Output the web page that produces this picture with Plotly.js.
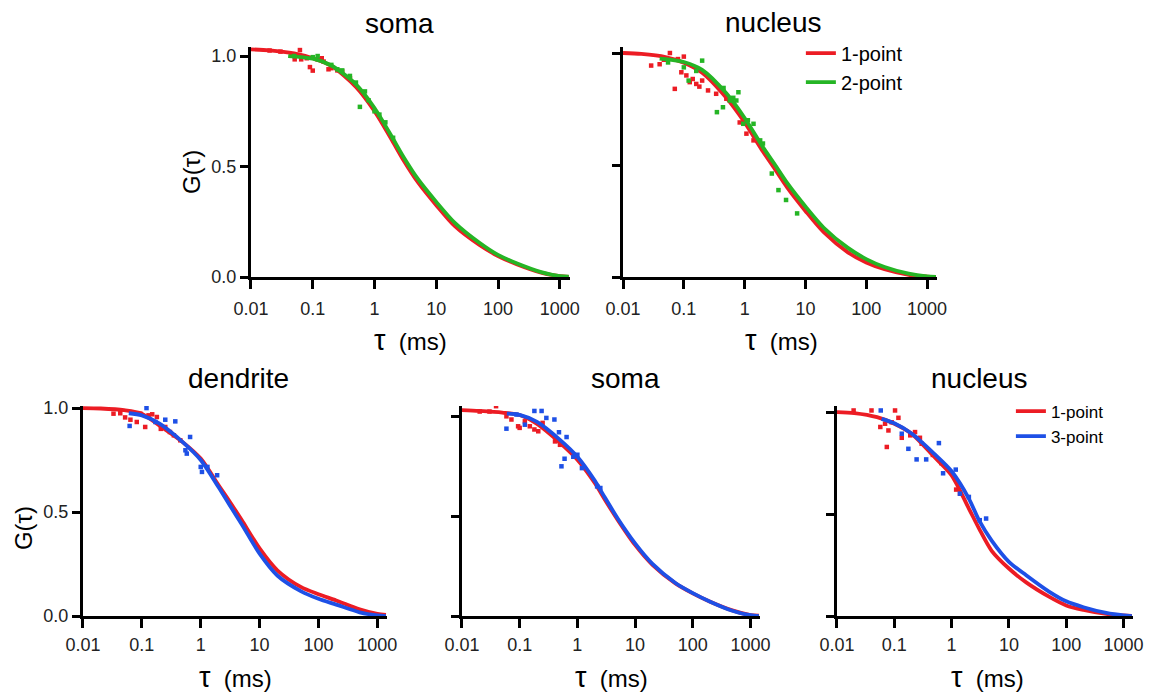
<!DOCTYPE html>
<html>
<head>
<meta charset="utf-8">
<script src="https://cdn.plot.ly/plotly-3.0.1.min.js"></script>
<style>html,body{margin:0;padding:0;background:#fff}#chart{width:1154px;height:699px}</style>
</head>
<body>
<div id="chart"></div>
<script>
// ---------- data ----------
var TAU_FIT   = [0.01, 0.02, 0.05, 0.1, 0.2, 0.5, 1, 2, 3, 5, 10, 20, 50, 100, 200, 500, 1000, 1400];
var TAU_FIT_B = [0.04, 0.1, 0.2, 0.5, 1, 2, 3, 5, 10, 20, 50, 100, 200, 500, 1000, 1400];
var TAU_FIT_C = [0.06, 0.1, 0.2, 0.5, 1, 2, 3, 5, 10, 20, 50, 100, 200, 500, 1000, 1400];
var X_TICKS = [0.01, 0.1, 1, 10, 100, 1000];
var X_TICK_LABELS = ['0.01', '0.1', '1', '10', '100', '1000'];
var Y_TICKS = [0, 0.5, 1];
var Y_TICK_LABELS = ['0.0', '0.5', '1.0'];
var SERIES_NAMES = ['1-point', '2-point', '3-point'];
var PANEL_TITLES = ['soma', 'nucleus', 'dendrite', 'soma', 'nucleus'];

// Panel A: soma (1-point vs 2-point)
var A_red_fit   = [1.03, 1.026, 1.012, 0.99, 0.955, 0.86, 0.75, 0.61, 0.525, 0.43, 0.325, 0.23, 0.145, 0.095, 0.058, 0.02, 0.004, 0.001];
var A_green_fit = [1.0, 0.988, 0.957, 0.872, 0.765, 0.625, 0.54, 0.445, 0.34, 0.245, 0.155, 0.10, 0.062, 0.022, 0.004, 0.002];
var A_red_pts_x = [0.02, 0.03, 0.045, 0.051, 0.062, 0.065, 0.08, 0.09, 0.1, 0.12, 0.14, 0.15, 0.18, 0.2, 0.25, 0.3, 0.4];
var A_red_pts_y = [1.025, 1.02, 1.005, 0.985, 1.027, 0.985, 0.99, 0.95, 0.934, 0.985, 0.99, 0.975, 0.94, 0.945, 0.935, 0.93, 0.9];
var A_green_pts_x = [0.05, 0.1, 0.12, 0.2, 0.25, 0.3, 0.4, 0.5, 0.58, 0.7, 0.8, 1.0, 1.2, 1.5, 2.0];
var A_green_pts_y = [1.0, 0.995, 1.0, 0.96, 0.94, 0.935, 0.91, 0.88, 0.77, 0.84, 0.8, 0.75, 0.735, 0.7, 0.63];

// Panel B: nucleus (1-point vs 2-point)
var B_red_fit   = [1.0, 0.996, 0.982, 0.957, 0.912, 0.80, 0.69, 0.56, 0.49, 0.40, 0.295, 0.20, 0.11, 0.065, 0.035, 0.01, 0.002, 0.0];
var B_green_fit = [0.975, 0.96, 0.925, 0.82, 0.71, 0.58, 0.51, 0.42, 0.315, 0.22, 0.13, 0.08, 0.045, 0.015, 0.003, 0.001];
var B_red_pts_x = [0.029, 0.04, 0.047, 0.059, 0.071, 0.08, 0.091, 0.1, 0.11, 0.125, 0.14, 0.16, 0.18, 0.2, 0.25, 0.34, 0.5, 0.83, 1.07, 1.4];
var B_red_pts_y = [0.944, 0.95, 0.97, 1.0, 0.84, 0.973, 0.914, 0.984, 0.9, 0.87, 0.884, 0.862, 0.85, 0.877, 0.833, 0.818, 0.796, 0.69, 0.64, 0.61];
var B_green_pts_x = [0.055, 0.1, 0.12, 0.16, 0.2, 0.35, 0.44, 0.45, 0.57, 0.65, 0.73, 0.79, 0.95, 1.13, 1.4, 1.8, 2.0, 2.8, 3.6, 4.8, 7.3];
var B_green_pts_y = [0.958, 0.936, 0.877, 0.92, 0.966, 0.736, 0.758, 0.844, 0.788, 0.80, 0.788, 0.825, 0.684, 0.70, 0.684, 0.61, 0.596, 0.462, 0.388, 0.344, 0.284];

// Panel C: dendrite (1-point vs 3-point)
var C_red_fit  = [1.0, 0.998, 0.99, 0.973, 0.915, 0.835, 0.757, 0.63, 0.557, 0.46, 0.325, 0.22, 0.14, 0.105, 0.075, 0.032, 0.01, 0.005];
var C_blue_fit = [0.975, 0.965, 0.925, 0.835, 0.75, 0.62, 0.54, 0.44, 0.30, 0.195, 0.12, 0.083, 0.055, 0.018, 0.003, 0.0];
var C_red_pts_x = [0.033, 0.043, 0.052, 0.064, 0.082, 0.094, 0.114, 0.13, 0.15, 0.18, 0.21, 0.25, 0.3, 0.35, 0.45];
var C_red_pts_y = [0.973, 0.975, 0.955, 0.944, 0.933, 0.973, 0.909, 0.965, 0.97, 0.957, 0.90, 0.909, 0.885, 0.869, 0.845];
var C_blue_pts_x = [0.062, 0.12, 0.17, 0.25, 0.37, 0.55, 0.58, 0.66, 1.0, 1.05, 1.3, 1.9];
var C_blue_pts_y = [0.914, 1.0, 0.933, 0.944, 0.936, 0.797, 0.781, 0.861, 0.717, 0.693, 0.717, 0.677];

// Panel D: soma (1-point vs 3-point)
var D_red_fit  = [1.034, 1.03, 1.022, 1.01, 0.965, 0.87, 0.785, 0.668, 0.584, 0.483, 0.357, 0.257, 0.164, 0.114, 0.072, 0.027, 0.005, 0.002];
var D_blue_fit = [1.017, 1.01, 0.975, 0.885, 0.80, 0.68, 0.595, 0.49, 0.365, 0.262, 0.166, 0.115, 0.072, 0.025, 0.004, 0.0];
var D_red_pts_x = [0.0203, 0.03, 0.039, 0.059, 0.072, 0.094, 0.1, 0.123, 0.15, 0.18, 0.21, 0.25, 0.41, 0.5];
var D_red_pts_y = [1.027, 1.027, 1.054, 1.003, 0.987, 0.953, 0.945, 0.978, 0.953, 0.937, 0.928, 0.97, 0.877, 0.86];
var D_blue_pts_x = [0.059, 0.088, 0.123, 0.18, 0.24, 0.29, 0.4, 0.48, 0.65, 0.53, 0.6, 0.85, 1.0, 1.2, 2.2, 2.5];
var D_blue_pts_y = [0.941, 1.012, 0.961, 1.03, 1.03, 0.995, 0.987, 0.923, 0.899, 0.752, 0.79, 0.80, 0.81, 0.743, 0.651, 0.643];

// Panel E: nucleus (1-point vs 3-point)
var E_red_fit  = [1.0, 0.995, 0.975, 0.943, 0.894, 0.78, 0.69, 0.527, 0.43, 0.32, 0.233, 0.165, 0.095, 0.052, 0.03, 0.01, 0.003, 0.001];
var E_blue_fit = [0.967, 0.945, 0.895, 0.795, 0.71, 0.576, 0.47, 0.37, 0.266, 0.2, 0.12, 0.072, 0.043, 0.015, 0.003, 0.0];
var E_red_pts_x = [0.0195, 0.04, 0.057, 0.069, 0.079, 0.074, 0.103, 0.118, 0.09, 0.135, 0.19, 0.23, 0.28, 0.3, 0.47, 0.66, 1.2, 1.4];
var E_red_pts_y = [1.008, 1.008, 0.927, 0.943, 0.91, 0.829, 1.008, 0.972, 0.95, 0.874, 0.886, 0.902, 0.874, 0.845, 0.79, 0.75, 0.62, 0.60];
var E_blue_pts_x = [0.058, 0.135, 0.176, 0.245, 0.36, 0.6, 0.71, 1.18, 1.4, 2.0, 3.1, 4.0];
var E_blue_pts_y = [1.008, 0.894, 0.82, 0.768, 0.768, 0.848, 0.70, 0.718, 0.60, 0.584, 0.47, 0.478];

// ---------- styling ----------
var RED = '#ec1c24', GREEN = '#25b525', BLUE = '#1e50e6';
var FONT = 'Liberation Sans, Arial, sans-serif';

function fit(x, y, color, ax, name, legend, show) {
  return {x: x, y: y, xaxis: 'x' + ax, yaxis: 'y' + ax, mode: 'lines', type: 'scatter',
    line: {color: color, width: 3.8, shape: 'spline', smoothing: 0.8},
    name: name, legend: legend || 'legend', showlegend: !!show, hoverinfo: 'skip'};
}
function pts(x, y, color, ax) {
  return {x: x, y: y, xaxis: 'x' + ax, yaxis: 'y' + ax, mode: 'markers', type: 'scatter',
    marker: {color: color, size: 4.5, symbol: 'square'}, showlegend: false, hoverinfo: 'skip'};
}

var data = [
  pts(A_red_pts_x, A_red_pts_y, RED, ''), fit(TAU_FIT, A_red_fit, RED, ''),
  pts(A_green_pts_x, A_green_pts_y, GREEN, ''), fit(TAU_FIT_B, A_green_fit, GREEN, ''),

  pts(B_red_pts_x, B_red_pts_y, RED, '2'), fit(TAU_FIT, B_red_fit, RED, '2', SERIES_NAMES[0], 'legend', true),
  pts(B_green_pts_x, B_green_pts_y, GREEN, '2'), fit(TAU_FIT_B, B_green_fit, GREEN, '2', SERIES_NAMES[1], 'legend', true),

  pts(C_red_pts_x, C_red_pts_y, RED, '3'), fit(TAU_FIT, C_red_fit, RED, '3'),
  pts(C_blue_pts_x, C_blue_pts_y, BLUE, '3'), fit(TAU_FIT_C, C_blue_fit, BLUE, '3'),

  pts(D_red_pts_x, D_red_pts_y, RED, '4'), fit(TAU_FIT, D_red_fit, RED, '4'),
  pts(D_blue_pts_x, D_blue_pts_y, BLUE, '4'), fit(TAU_FIT_C, D_blue_fit, BLUE, '4'),

  pts(E_red_pts_x, E_red_pts_y, RED, '5'), fit(TAU_FIT, E_red_fit, RED, '5', SERIES_NAMES[0], 'legend2', true),
  pts(E_blue_pts_x, E_blue_pts_y, BLUE, '5'), fit(TAU_FIT_C, E_blue_fit, BLUE, '5', SERIES_NAMES[2], 'legend2', true)
];

function xax(dom, anchor, standoff) {
  return {type: 'log', domain: dom, anchor: anchor, range: [-2, 3.165],
    tickvals: X_TICKS, ticktext: X_TICK_LABELS, showline: true, linewidth: 3, linecolor: '#000',
    ticks: 'outside', ticklen: 9, tickwidth: 3, tickcolor: '#000', showgrid: false, zeroline: false,
    ticklabelstandoff: standoff, tickfont: {family: FONT, size: 18, color: '#222'}, fixedrange: true};
}
function yax(dom, anchor, top, labels) {
  return {domain: dom, anchor: anchor, range: [0, top], tickvals: Y_TICKS, ticktext: Y_TICK_LABELS,
    showticklabels: labels, showline: true, linewidth: 3, linecolor: '#000',
    ticks: 'outside', ticklen: 8, tickwidth: 3, tickcolor: '#000', showgrid: false, zeroline: false,
    tickfont: {family: FONT, size: 18, color: '#222'}, fixedrange: true};
}

var TOP = [0.6037, 0.9328], BOT = [0.1187, 0.4192];
var TAU_TITLE = '<span style="font-size:29px">\u03c4</span>\u00a0\u00a0(ms)';

function ann(text, x, y, size, rot) {
  return {text: text, x: x, y: y, xref: 'paper', yref: 'paper', showarrow: false,
    xanchor: 'center', yanchor: 'middle', textangle: rot || 0,
    font: {family: FONT, size: size, color: '#000'}};
}

var layout = {
  width: 1154, height: 699, margin: {l: 0, r: 0, t: 0, b: 0},
  paper_bgcolor: '#fff', plot_bgcolor: '#fff', showlegend: true,
  xaxis:  xax([0.2175, 0.4939], 'y', 4),  yaxis:  yax(TOP, 'x', 1.041, true),
  xaxis2: xax([0.5399, 0.8120], 'y2', 4), yaxis2: yax(TOP, 'x2', 1.027, false),
  xaxis3: xax([0.0719, 0.3354], 'y3', 1), yaxis3: yax(BOT, 'x3', 1.01, true),
  xaxis4: xax([0.4003, 0.6586], 'y4', 1), yaxis4: yax(BOT, 'x4', 1.055, false),
  xaxis5: xax([0.7253, 0.9818], 'y5', 1), yaxis5: yax(BOT, 'x5', 1.03, false),
  legend:  {x: 0.694, y: 0.952, xanchor: 'left', yanchor: 'top', bgcolor: 'rgba(0,0,0,0)',
            font: {family: FONT, size: 20, color: '#000'}, tracegroupgap: 0, itemwidth: 30},
  legend2: {x: 0.876, y: 0.437, xanchor: 'left', yanchor: 'top', bgcolor: 'rgba(0,0,0,0)',
            font: {family: FONT, size: 17, color: '#000'}, tracegroupgap: 0, itemwidth: 30},
  annotations: [
    ann(PANEL_TITLES[0], 0.3466, 0.967, 28), ann(PANEL_TITLES[1], 0.6707, 0.968, 28),
    ann(PANEL_TITLES[2], 0.2063, 0.4592, 28), ann(PANEL_TITLES[3], 0.5416, 0.4592, 28),
    ann(PANEL_TITLES[4], 0.8492, 0.4592, 28),
    ann(TAU_TITLE, 0.356, 0.5136, 24), ann(TAU_TITLE, 0.6768, 0.5136, 24),
    ann(TAU_TITLE, 0.2045, 0.031, 24), ann(TAU_TITLE, 0.5295, 0.031, 24), ann(TAU_TITLE, 0.856, 0.031, 24),
    ann('G(\u03c4)', 0.1664, 0.754, 24, -90), ann('G(\u03c4)', 0.02, 0.2446, 24, -90)
  ]
};

Plotly.newPlot('chart', data, layout, {displayModeBar: false, staticPlot: true});
</script>
</body>
</html>
